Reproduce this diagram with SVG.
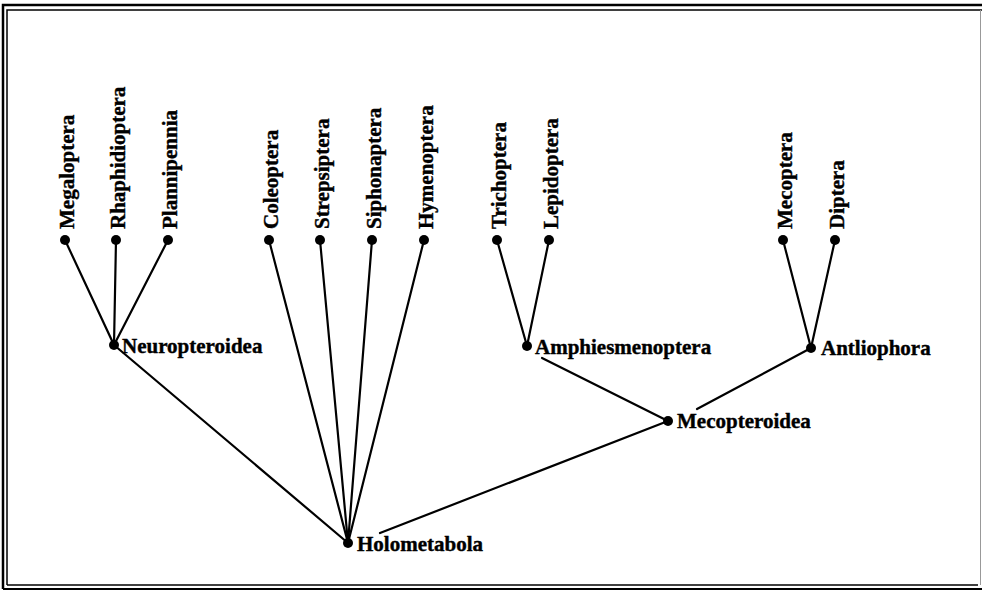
<svg xmlns="http://www.w3.org/2000/svg" width="982" height="592" viewBox="0 0 982 592">
<style>
.e{stroke:#000;stroke-width:2.2;fill:none;stroke-linecap:round}
.d{fill:#000}
text{font-family:"Liberation Serif","Times New Roman",serif;font-weight:bold;font-size:21px;fill:#000;stroke:#000;stroke-width:0.4}
.fr{stroke:#000;fill:none}
</style>
<rect width="982" height="592" fill="#fff"/>
<g id="frame">
<path class="fr" stroke-width="2.5" d="M3,589 V5 H982"/>
<path class="fr" stroke-width="1.5" d="M7,585 V10 H982"/>
<path class="fr" stroke-width="2" d="M3,589 H982"/>
<path class="fr" stroke-width="1.5" d="M7,585 H978"/>
<path stroke="#999" stroke-width="1" fill="none" d="M980.5,10 V585"/>
</g>
<g id="connectors">
<line class="e" x1="65" y1="240" x2="114" y2="345"/>
<line class="e" x1="116" y1="240" x2="114" y2="345"/>
<line class="e" x1="168" y1="240" x2="114" y2="345"/>
<line class="e" x1="114" y1="345" x2="348" y2="543"/>
<line class="e" x1="269" y1="240" x2="348" y2="543"/>
<line class="e" x1="320" y1="240" x2="348" y2="543"/>
<line class="e" x1="372" y1="240" x2="348" y2="543"/>
<line class="e" x1="424" y1="240" x2="348" y2="543"/>
<line class="e" x1="497" y1="240" x2="527" y2="346"/>
<line class="e" x1="549" y1="240" x2="527" y2="346"/>
<line class="e" x1="783" y1="240" x2="811" y2="348"/>
<line class="e" x1="835" y1="240" x2="811" y2="348"/>
<line class="e" x1="542" y1="358" x2="668" y2="421"/>
<line class="e" x1="697" y1="409" x2="811" y2="348"/>
<line class="e" x1="380" y1="533" x2="668" y2="421"/>
</g>
<g id="Megaloptera"><circle class="d" cx="65" cy="240" r="5"/><text transform="translate(74,229) rotate(-90)">Megaloptera</text></g>
<g id="Rhaphidioptera"><circle class="d" cx="116" cy="240" r="5"/><text transform="translate(125,229) rotate(-90)">Rhaphidioptera</text></g>
<g id="Plannipennia"><circle class="d" cx="168" cy="240" r="5"/><text transform="translate(177,229) rotate(-90)">Plannipennia</text></g>
<g id="Coleoptera"><circle class="d" cx="269" cy="240" r="5"/><text transform="translate(278,229) rotate(-90)">Coleoptera</text></g>
<g id="Strepsiptera"><circle class="d" cx="320" cy="240" r="5"/><text transform="translate(329,229) rotate(-90)">Strepsiptera</text></g>
<g id="Siphonaptera"><circle class="d" cx="372" cy="240" r="5"/><text transform="translate(381,229) rotate(-90)">Siphonaptera</text></g>
<g id="Hymenoptera"><circle class="d" cx="424" cy="240" r="5"/><text transform="translate(433,229) rotate(-90)">Hymenoptera</text></g>
<g id="Trichoptera"><circle class="d" cx="497" cy="240" r="5"/><text transform="translate(506,229) rotate(-90)">Trichoptera</text></g>
<g id="Lepidoptera"><circle class="d" cx="549" cy="240" r="5"/><text transform="translate(558,229) rotate(-90)">Lepidoptera</text></g>
<g id="Mecoptera"><circle class="d" cx="783" cy="240" r="5"/><text transform="translate(792,229) rotate(-90)">Mecoptera</text></g>
<g id="Diptera"><circle class="d" cx="835" cy="240" r="5"/><text transform="translate(844,229) rotate(-90)">Diptera</text></g>
<g id="Neuropteroidea"><circle class="d" cx="114" cy="345" r="5"/><text x="122" y="353">Neuropteroidea</text></g>
<g id="Amphiesmenoptera"><circle class="d" cx="527" cy="346" r="5"/><text x="535" y="354">Amphiesmenoptera</text></g>
<g id="Antliophora"><circle class="d" cx="811" cy="348" r="5"/><text x="821" y="355">Antliophora</text></g>
<g id="Mecopteroidea"><circle class="d" cx="668" cy="421" r="5"/><text x="677" y="428">Mecopteroidea</text></g>
<g id="Holometabola"><circle class="d" cx="348" cy="543" r="5"/><text x="357" y="551">Holometabola</text></g>
</svg>
